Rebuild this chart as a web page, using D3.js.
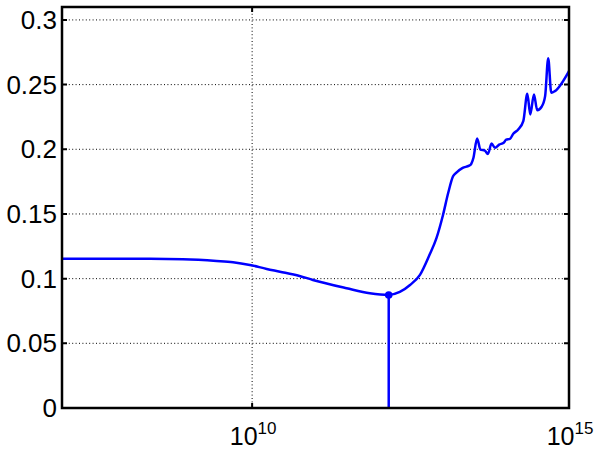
<!DOCTYPE html>
<html>
<head>
<meta charset="utf-8">
<script src="https://cdn.jsdelivr.net/npm/d3@7"></script>
<style>
  body { margin: 0; background: #fff; }
  text { font-family: "Liberation Sans", Arial, sans-serif; fill: #000; }
</style>
</head>
<body>
<div id="chart"></div>
<script>
// data
var xVals = [1e7, 2.45e8, 8.1e8, 2.75e9, 5.0e9, 9.2e9, 1.7e10, 2.75e10, 5.6e10, 9.1e10,
  3.1e11, 7.2e11, 1.43e12, 2.14e12, 3.1e12, 4.45e12, 6.3e12, 8.1e12, 1.03e13, 1.24e13,
  1.48e13, 1.69e13, 2.1e13, 2.65e13, 2.85e13, 3.1e13, 3.55e13, 4.0e13, 4.7e13, 5.25e13,
  6.0e13, 6.8e13, 7.9e13, 9.3e13, 1.02e14, 1.17e14, 1.32e14, 1.58e14, 1.9e14, 2.2e14,
  2.45e14, 2.8e14, 3.15e14, 3.7e14, 4.2e14, 4.7e14, 5.25e14, 6.0e14, 1e15];
var yVals = [0.1153, 0.1153, 0.1150, 0.1137, 0.1127, 0.1106, 0.1075, 0.1054, 0.1021, 0.0990,
  0.0926, 0.0887, 0.0874, 0.0897, 0.0951, 0.1029, 0.1184, 0.1313, 0.1494, 0.1662,
  0.1791, 0.1822, 0.1856, 0.1874, 0.1885, 0.1933, 0.2083, 0.1998, 0.1990, 0.1964,
  0.2044, 0.2011, 0.2036, 0.2050, 0.2075, 0.2081, 0.2120, 0.2153, 0.2217, 0.2429,
  0.2269, 0.2424, 0.2302, 0.2329, 0.2411, 0.2703, 0.2437, 0.2450, 0.2605];
var minX = 1.43e12, minY = 0.0874;
var yTicks = [0, 0.05, 0.1, 0.15, 0.2, 0.25, 0.3];
var yTickLabels = ["0", "0.05", "0.1", "0.15", "0.2", "0.25", "0.3"];
var xTicks = [1e10, 1e15];
var xTickExp = ["10", "15"];

var margin = {top: 7, right: 31, bottom: 41, left: 62},
    width = 600 - margin.left - margin.right,
    height = 449 - margin.top - margin.bottom;

var svg = d3.select("#chart")
  .append("svg")
    .attr("width", 600)
    .attr("height", 449)
  .append("g")
    .attr("transform", "translate(" + margin.left + "," + margin.top + ")");

var x = d3.scaleLog()
  .domain([1e7, 1e15])
  .range([0, width]);

var y = d3.scaleLinear()
  .domain([0, 0.31])
  .range([height, 0]);

// grid
svg.append("g")
  .selectAll("line")
  .data(yTicks.slice(1))
  .enter().append("line")
    .attr("x1", 0).attr("x2", width)
    .attr("y1", function(d) { return y(d); })
    .attr("y2", function(d) { return y(d); })
    .attr("stroke", "#000")
    .attr("stroke-width", 1)
    .attr("stroke-dasharray", "1,2.4");
svg.append("g")
  .selectAll("line")
  .data(xTicks)
  .enter().append("line")
    .attr("x1", function(d) { return x(d); })
    .attr("x2", function(d) { return x(d); })
    .attr("y1", 0).attr("y2", height)
    .attr("stroke", "#000")
    .attr("stroke-width", 1)
    .attr("stroke-dasharray", "1,2.4");

// curve
var line = d3.line()
  .x(function(d) { return x(d[0]); })
  .y(function(d) { return y(d[1]); })
  .curve(d3.curveMonotoneX);

svg.append("path")
  .datum(xVals.map(function(v, i) { return [v, yVals[i]]; }))
  .attr("fill", "none")
  .attr("stroke", "#0000ff")
  .attr("stroke-width", 2.5)
  .attr("stroke-linejoin", "round")
  .attr("d", line);

// stem at the minimum
svg.append("line")
  .attr("x1", x(minX)).attr("x2", x(minX))
  .attr("y1", y(0)).attr("y2", y(minY))
  .attr("stroke", "#0000ff")
  .attr("stroke-width", 2.5);
svg.append("circle")
  .attr("cx", x(minX))
  .attr("cy", y(minY))
  .attr("r", 3.8)
  .attr("fill", "#0000ff");

// box and inward ticks
svg.append("rect")
  .attr("width", width)
  .attr("height", height)
  .attr("fill", "none")
  .attr("stroke", "#000")
  .attr("stroke-width", 2.5);

var tl = 5;
svg.append("g")
  .selectAll("path")
  .data(yTicks)
  .enter().append("path")
    .attr("d", function(d) {
      return "M0," + y(d) + "h" + tl + "M" + width + "," + y(d) + "h" + (-tl);
    })
    .attr("stroke", "#000")
    .attr("stroke-width", 2);
svg.append("g")
  .selectAll("path")
  .data(xTicks)
  .enter().append("path")
    .attr("d", function(d) {
      return "M" + x(d) + "," + height + "v" + (-tl) + "M" + x(d) + ",0v" + tl;
    })
    .attr("stroke", "#000")
    .attr("stroke-width", 2);

// y tick labels
svg.append("g")
  .selectAll("text")
  .data(yTicks)
  .enter().append("text")
    .attr("x", -5)
    .attr("y", function(d) { return y(d); })
    .attr("dy", "0.35em")
    .attr("text-anchor", "end")
    .style("font-size", "26px")
    .text(function(d, i) { return yTickLabels[i]; });

// x tick labels as 10^n
var xl = svg.append("g")
  .selectAll("text")
  .data(xTicks)
  .enter().append("text")
    .attr("x", function(d) { return x(d) + 1; })
    .attr("y", height + 37)
    .attr("text-anchor", "middle")
    .style("font-size", "25px");
xl.append("tspan").text("10");
xl.append("tspan")
  .attr("dy", "-0.65em")
  .style("font-size", "17px")
  .text(function(d, i) { return xTickExp[i]; });
</script>
</body>
</html>
